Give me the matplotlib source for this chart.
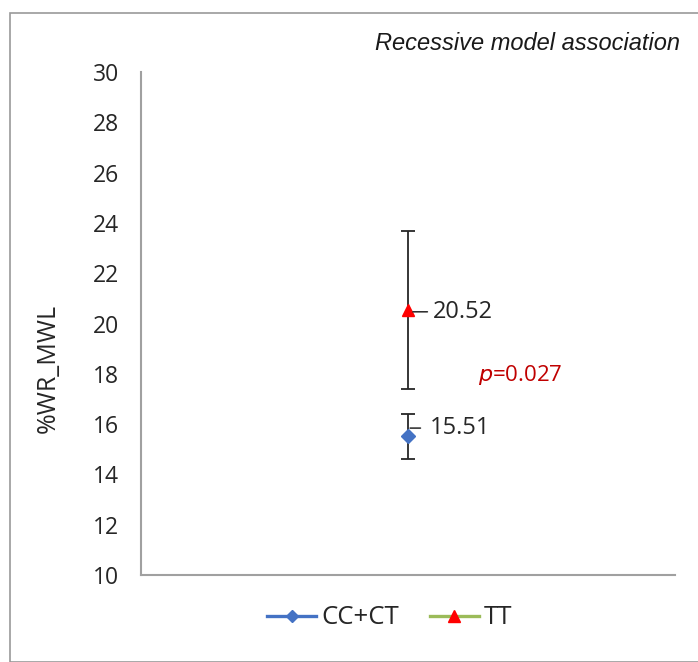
import numpy as np
import matplotlib as mpl
mpl.use('Agg')
import matplotlib.pyplot as plt
from matplotlib.patches import Rectangle
from matplotlib.lines import Line2D
from matplotlib.transforms import offset_copy

# data
groups = ["CC+CT", "TT"]
means = [15.51, 20.52]
errs = [0.91, 3.14]
colors_line = ["#4472C4", "#9BBB59"]
colors_mark = ["#4472C4", "#FF0000"]
markers = ["D", "^"]
yticks = [10, 12, 14, 16, 18, 20, 22, 24, 26, 28, 30]
p_text = "0.027"

plt.rcParams['font.family'] = ['Open Sans', 'DejaVu Sans']

W, H = 698, 662
fig = plt.figure(figsize=(W/100., H/100.), dpi=100)

# outer chart border
fig.patches.append(Rectangle((10./W, 0), 1.0, 1 - 13./H, transform=fig.transFigure,
                             fill=False, edgecolor="#9a9a9a", linewidth=1.2))

ax = fig.add_axes([141./W, 1 - 575./H, (675.-141.)/W, (575.-72.)/H])
for s in ["top", "right"]:
    ax.spines[s].set_visible(False)
for s in ["left", "bottom"]:
    ax.spines[s].set_color("#a0a0a0")
    ax.spines[s].set_linewidth(1.5)

ax.set_xlim(0, 2)
ax.set_ylim(10, 30)
ax.set_yticks(yticks)
ax.set_xticks([])
ax.tick_params(axis='y', length=0, pad=16, labelsize=16.5, labelcolor="#262626")
ax.set_ylabel("%WR_MWL", fontsize=18, color="#262626")
ax.yaxis.set_label_coords(-80./534, 0.41)

xpos = 1.0
# (leader start, leader end, text start, vertical shift) in points
label_offsets = [(1.5, 9.0, 15.5, 6), (3.5, 14.0, 18, -1)]
for i in range(len(groups)):
    ax.errorbar([xpos], [means[i]], yerr=[errs[i]], fmt='none', ecolor="#262626",
                elinewidth=1.3, capsize=5, capthick=1.3, zorder=2)
    ax.plot([xpos], [means[i]], linestyle='none', marker=markers[i],
            markersize=8 if markers[i] == "^" else 7,
            markerfacecolor=colors_mark[i], markeredgecolor=colors_mark[i], zorder=3)
    x0, x1, tx, dy = label_offsets[i]
    t0 = offset_copy(ax.transData, fig=fig, x=x0, y=dy, units='points')
    t1 = offset_copy(ax.transData, fig=fig, x=x1, y=dy, units='points')
    ax.annotate("", xy=(xpos, means[i]), xycoords=t0,
                xytext=(xpos, means[i]), textcoords=t1,
                arrowprops=dict(arrowstyle='-', color="#262626", lw=1.1,
                                shrinkA=0, shrinkB=0))
    ax.annotate("%.2f" % means[i], xy=(xpos, means[i]), xytext=(tx, dy),
                textcoords='offset points', va='center', ha='left',
                fontsize=17, color="#262626")

ax.text(0.631, 0.398, r"$\it{p}$" + "=" + p_text, transform=ax.transAxes,
        color="#C00000", fontsize=16, va='center', ha='left')

fig.text(1 - 18./W, 1 - 43./H, "Recessive model association", ha='right', va='center',
         fontsize=17, style='italic', family=['Liberation Sans', 'DejaVu Sans'],
         color="#1a1a1a")

handles = [Line2D([0], [0], color=colors_line[i], lw=2.4, marker=markers[i],
                  markersize=8 if markers[i] == "^" else 6,
                  markerfacecolor=colors_mark[i], markeredgecolor=colors_mark[i])
           for i in range(len(groups))]
leg = fig.legend(handles, groups, loc='center', bbox_to_anchor=(390./W, 1 - 618./H),
                 ncol=2, frameon=False, fontsize=18.5, handlelength=1.9,
                 handletextpad=0.2, columnspacing=1.2)
for t in leg.get_texts():
    t.set_color("#262626")

fig.savefig("out.png", dpi=100)
